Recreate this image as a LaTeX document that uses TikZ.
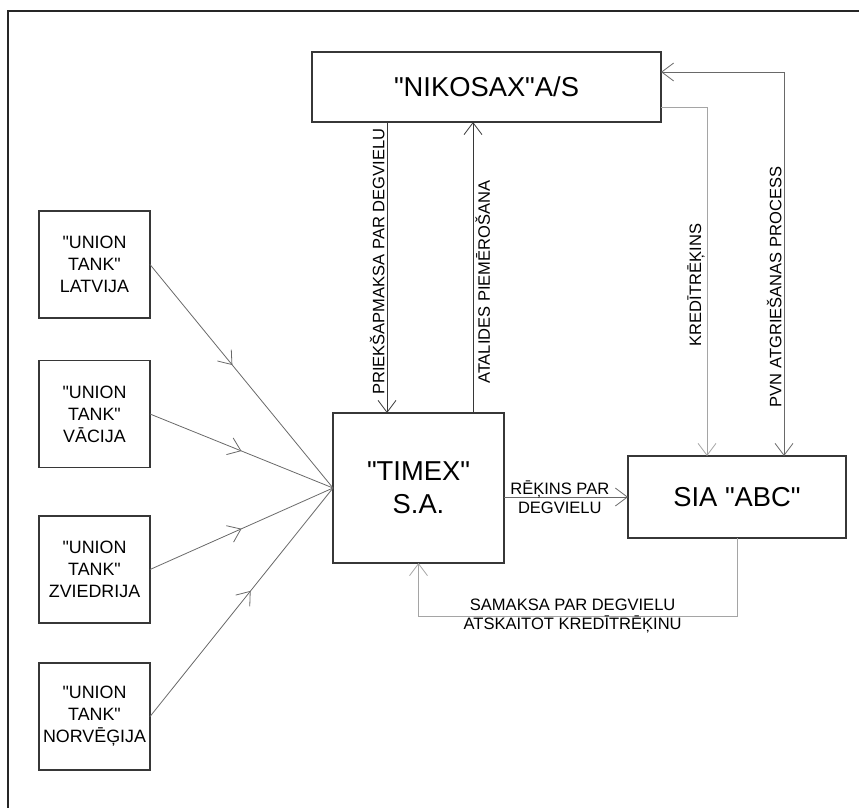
\documentclass[tikz,border=0pt]{standalone}
\usepackage{fontspec}
\newfontfamily\arial{Liberation Sans}
\usetikzlibrary{arrows.meta,decorations.markings,positioning}
\definecolor{dgrey}{RGB}{55,55,55}
\definecolor{mgrey}{RGB}{105,105,105}
\definecolor{lgrey}{RGB}{165,165,165}
\tikzset{
    barb/.tip={Straight Barb[length=9pt,width=13.5pt]},
    box/.style={
        rectangle, draw=dgrey, line width=0.9pt,
        inner sep=0pt, outer sep=0pt, align=center
    },
    tankbox/.style={
        box, minimum width=83.25pt, minimum height=80.25pt,
        font=\arial\fontsize{13.4}{16.5}\selectfont
    },
    bigbox/.style={
        box, font=\arial\fontsize{20.5}{25}\selectfont
    },
    lbl/.style={
        font=\arial\fontsize{12.4}{14.5}\selectfont,
        align=center, inner sep=1.5pt
    },
    vlbl/.style={lbl, rotate=90},
    flow/.style={line width=0.6pt, draw=dgrey, -barb},
    softflow/.style={line width=0.6pt, draw=lgrey, -barb},
    feed/.style={
        line width=0.6pt, draw=mgrey,
        postaction={decorate},
        decoration={markings, mark=at position #1 with {\arrow[mgrey]{barb}}}
    },
    feed/.default=0.5
}

\begin{document}
\begin{tikzpicture}[x=0.75pt,y=-0.75pt]
    \useasboundingbox (0,0) rectangle (859,807);
    % frame
    \draw[line width=1.1pt, draw=black!85] (870,11) -- (8,11) -- (8,820);

    % main boxes
    \node[bigbox, minimum width=261.75pt, minimum height=52.5pt] (nikosax) at (486.5,87) {"NIKOSAX"A/S};
    \node[bigbox, minimum width=128.25pt, minimum height=112.5pt] (timex) at (418.5,488) {"TIMEX"\\S.A.};
    \node[bigbox, minimum width=163.5pt, minimum height=61.5pt] (abc) at (737,497) {SIA "ABC"};

    % union tank boxes
    \node[tankbox] (lat) at (94.5,264.5) {"UNION\\TANK"\\LATVIJA};
    \node[tankbox] (vac) at (94.5,414) {"UNION\\TANK"\\VĀCIJA};
    \node[tankbox] (zvi) at (94.5,569.5) {"UNION\\TANK"\\ZVIEDRIJA};
    \node[tankbox] (nor) at (94.5,716.5) {"UNION\\TANK"\\NORVĒĢIJA};

    \draw[feed=0.45] (lat.east) -- (timex.west);
    \draw[feed=0.5] (vac.east) -- (timex.west);
    \draw[feed=0.5] (zvi.east) -- (timex.west);
    \draw[feed=0.55] (nor.east) -- (timex.west);

    % nikosax <-> timex
    \coordinate (pre) at ([xshift=40.5pt]timex.north west);
    \coordinate (ata) at ([xshift=105pt]timex.north west);
    \draw[flow] (pre |- nikosax.south) -- node[vlbl, pos=0.48, anchor=south] {PRIEKŠAPMAKSA PAR DEGVIELU} (pre);
    \draw[flow] (ata) -- node[vlbl, pos=0.45, anchor=north] {ATALIDES PIEMĒROŠANA} (ata |- nikosax.south);

    % nikosax <-> abc
    \coordinate (kre) at ([xshift=59.25pt]abc.north west);
    \coordinate (pvn) at ([xshift=117pt]abc.north west);
    \draw[softflow] ([yshift=-15pt]nikosax.east) -| node[vlbl, pos=0.755, anchor=south] {KREDĪTRĒĶINS} (kre);
    \draw[flow, barb-barb, draw=mgrey] ([yshift=11.25pt]nikosax.east) -| node[vlbl, pos=0.78, anchor=south] {PVN ATGRIEŠANAS PROCESS} (pvn);

    % timex <-> abc
    \draw[flow, draw=mgrey] (abc.west -| timex.east) -- node[lbl, pos=0.45] {RĒĶINS PAR\\DEGVIELU} (abc.west);
    \draw[softflow] (abc.south) -- ++(0,78) -| node[lbl, pos=0.258, text=black] {SAMAKSA PAR DEGVIELU\\ATSKAITOT KREDĪTRĒĶINU} (timex.south);
\end{tikzpicture}
\end{document}
